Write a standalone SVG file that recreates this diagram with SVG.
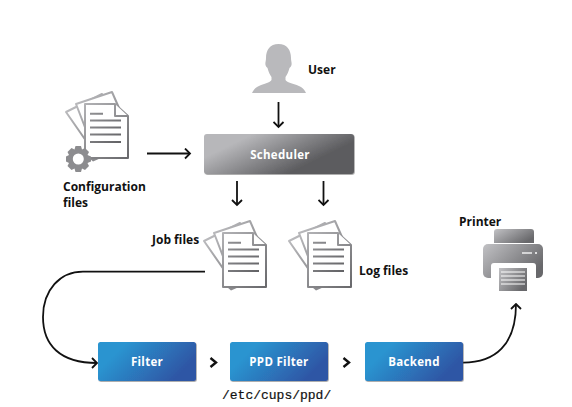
<svg xmlns="http://www.w3.org/2000/svg" xmlns:xlink="http://www.w3.org/1999/xlink" width="572" height="407" viewBox="0 0 572 407">
<style>
.t{font-family:"Open Sans","Noto Sans","Liberation Sans",sans-serif;font-weight:700;font-size:12px;fill:#111}
.w{font-family:"Open Sans","Noto Sans","Liberation Sans",sans-serif;font-weight:700;font-size:11.5px;fill:#fff;text-anchor:middle;letter-spacing:.3px}
.m{font-family:"Liberation Mono",monospace;font-size:13px;fill:#111;stroke:#111;stroke-width:.2}
.c{fill:none;stroke:#111;stroke-width:1.8}
.page{fill:#fff;stroke:url(#docg);stroke-width:2;stroke-linejoin:round}
.ln{stroke:url(#docl);stroke-width:2;fill:none}
.bl{fill:url(#blue);filter:url(#sh)}
</style>
<defs>
<linearGradient id="docg" gradientUnits="userSpaceOnUse" x1="-15" y1="-10" x2="45" y2="50"><stop offset="0" stop-color="#c4c4c7"/><stop offset="1" stop-color="#6a6a6d"/></linearGradient>
<linearGradient id="docl" gradientUnits="userSpaceOnUse" x1="5" y1="9" x2="36" y2="38"><stop offset="0" stop-color="#909093"/><stop offset="1" stop-color="#626265"/></linearGradient>
<linearGradient id="gray" x1="0" y1="0" x2="1" y2="0.55"><stop offset="0.25" stop-color="#b7b7ba"/><stop offset="0.85" stop-color="#5c5c5f"/></linearGradient>
<linearGradient id="blue" x1="0" y1="0.3" x2="1" y2="0.7"><stop offset="0.15" stop-color="#2a94d0"/><stop offset="0.9" stop-color="#2f56a5"/></linearGradient>
<linearGradient id="prn" x1="0" y1="0" x2="1" y2="0.6"><stop offset="0" stop-color="#c2c2c5"/><stop offset="1" stop-color="#68686b"/></linearGradient>
<filter id="sh" x="-5%" y="-10%" width="110%" height="125%"><feDropShadow dx="0.7" dy="0.8" stdDeviation="0.7" flood-color="#555" flood-opacity=".6"/></filter>
<marker id="a" viewBox="0 0 12 12" refX="10.5" refY="6" markerWidth="12" markerHeight="12" markerUnits="userSpaceOnUse" orient="auto"><path d="M5.500 1 L10.500 6 L5.500 11" fill="none" stroke="#111" stroke-width="1.800"/></marker>
<g id="doc">
<path class="page" d="M-19 8 L17 -10 L24 4 L6 44 Z"/>
<path class="page" d="M-9 0 L27 -12 L34 4 L8 44 Z"/>
<path d="M4 54 L8 57.500 L16 54 Z" fill="#8a8a8d"/>
<path class="page" d="M0 0 H30 L43 12 V54 H0 Z"/>
<path class="page" d="M30 0 V12 H43"/>
<path class="ln" d="M5 9.700 H18 M5 16.500 H36 M5 23.500 H36 M5 30.500 H36 M5 38 H36"/>
</g>
</defs>
<rect width="572" height="407" fill="#fff"/>

<g id="connectors">
<path class="c" marker-end="url(#a)" d="M278.500 102 V127"/>
<path class="c" marker-end="url(#a)" d="M147 153.500 H190"/>
<path class="c" marker-end="url(#a)" d="M237 181 V205"/>
<path class="c" marker-end="url(#a)" d="M323.500 181 V205"/>
<path class="c" marker-end="url(#a)" d="M205 271.700 H83 C60 271.700 43 290 43 317 C43 345 60 363 97 363"/>
<path class="c" marker-end="url(#a)" d="M463 362.700 C495 362.700 516 345 516 304"/>
<path d="M210.500 358 L216 362.500 L210.500 367" fill="none" stroke="#111" stroke-width="2.400"/>
<path d="M343.500 358 L349 362.500 L343.500 367" fill="none" stroke="#111" stroke-width="2.400"/>
</g>

<g id="user">
<path fill="#b9b9bc" d="M278.500 44 C287 44 291 50 291 58 C291 61 292 63 291.500 65 C291 67 290 67 289.500 68 C288.500 72 287 75 285.500 77 V80 C287 83 296 84 301 87 C304 89 305 91 306 93 H252 C253 91 254 89 257 87 C262 84 270 83 271.500 80 V77 C270 75 268.500 72 267.500 68 C267 67 266 67 265.500 65 C265 63 266 61 266 58 C266 50 270 44 278.500 44 Z"/>
<text class="t" x="308" y="74">User</text>
</g>

<g id="config">
<use xlink:href="#doc" href="#doc" transform="translate(85 104)"/>
<path fill="#8c8c8f" fill-rule="evenodd" d="M75.500 146 H81 L82 149.500 L85 148 L89 152 L87.500 155 L91 156.500 V161.500 L87.500 163 L89 166 L85 170 L82 168.500 L81 172 H75.500 L74.500 168.500 L71.500 170 L67.500 166 L69 163 L66 161.500 V156.500 L69 155 L67.500 152 L71.500 148 L74.500 149.500 Z M78.300 153.500 A5.500 5.500 0 1 0 78.301 164.500 A5.500 5.500 0 1 0 78.300 153.500 Z"/>
<text class="t" x="63" y="190.800">Configuration</text>
<text class="t" x="63" y="207.300">files</text>
</g>

<g id="scheduler">
<rect x="204" y="134" width="150" height="40" rx="3" fill="url(#gray)" filter="url(#sh)"/>
<text class="w" x="280" y="158.500">Scheduler</text>
</g>

<g id="jobfiles">
<use xlink:href="#doc" href="#doc" transform="translate(223 233)"/>
<text class="t" x="152" y="244">Job files</text>
</g>

<g id="logfiles">
<use xlink:href="#doc" href="#doc" transform="translate(308 233)"/>
<text class="t" x="359" y="275">Log files</text>
</g>

<g id="printer">
<text class="t" x="459" y="226">Printer</text>
<path fill="url(#prn)" d="M494 243 V232 Q494 229 497 229 H531 Q534 229 534 232 V243 Z"/>
<rect x="483" y="244" width="60" height="34" rx="5" fill="url(#prn)"/>
<rect x="491" y="263" width="45" height="30" rx="3" fill="#fff"/>
<rect x="499" y="268" width="28" height="23" fill="url(#prn)"/>
<path d="M501 272 H525 M501 276 H525 M501 280 H525 M501 284 H525" stroke="#fff" stroke-width="1"/>
<path d="M522 253 H532" stroke="#fff" stroke-width="1.300"/>
<circle cx="536" cy="253" r="1" fill="#fff"/>
</g>

<g id="filter">
<rect class="bl" x="98" y="342" width="98" height="39" rx="2.500"/>
<text class="w" x="147" y="366">Filter</text>
</g>
<g id="ppdfilter">
<rect class="bl" x="230" y="342" width="98" height="39" rx="2.500"/>
<text class="w" x="279" y="366">PPD Filter</text>
<text class="m" x="222" y="399">/etc/cups/ppd/</text>
</g>
<g id="backend">
<rect class="bl" x="365" y="342" width="98" height="39" rx="2.500"/>
<text class="w" x="414" y="366">Backend</text>
</g>
</svg>
